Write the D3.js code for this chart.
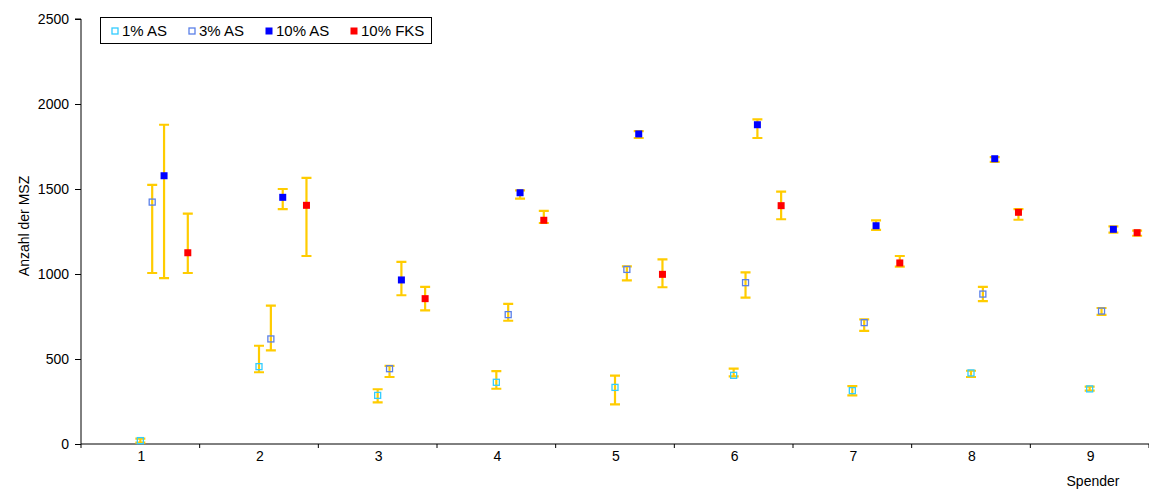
<!DOCTYPE html>
<html>
<head>
<meta charset="utf-8">
<script src="https://cdn.jsdelivr.net/npm/d3@7"></script>
<style>
  html, body { margin: 0; padding: 0; background: #fff; }
  svg { display: block; }
  text { font-family: "Liberation Sans", Arial, sans-serif; fill: #000; }
</style>
</head>
<body>
<svg id="chart" width="1149" height="489"></svg>
<script>
// ---- data ----
const categories = [1, 2, 3, 4, 5, 6, 7, 8, 9];
const seriesNames = ["1% AS", "3% AS", "10% AS", "10% FKS"];

const as1   = [20, 455, 286, 363, 333, 404, 314, 418, 324];
const as1Hi = [32, 578, 322, 429, 402, 443, 341, 431, 337];
const as1Lo = [8, 422, 245, 325, 233, 398, 286, 394, 314];

const as3   = [1423, 618, 443, 761, 1027, 949, 714, 882, 782];
const as3Hi = [1524, 814, 459, 824, 1045, 1010, 733, 924, 800];
const as3Lo = [1006, 551, 394, 725, 963, 861, 665, 841, 759];

const as10   = [1578, 1451, 965, 1478, 1824, 1878, 1284, 1678, 1263];
const as10Hi = [1878, 1500, 1071, 1492, 1841, 1910, 1316, 1687, 1280];
const as10Lo = [976, 1382, 875, 1443, 1800, 1800, 1259, 1659, 1243];

const fks   = [1125, 1404, 855, 1316, 998, 1402, 1065, 1363, 1243];
const fksHi = [1355, 1565, 924, 1371, 1086, 1484, 1106, 1382, 1255];
const fksLo = [1006, 1106, 786, 1300, 922, 1322, 1043, 1319, 1225];

const yTicks = [0, 500, 1000, 1500, 2000, 2500];
const xOffsets = [0, 0.1, 0.2, 0.4];

// ---- styles ----
const seriesStyle = [
  { fill: "none", stroke: "#33CCFF" },
  { fill: "none", stroke: "#5B80E8" },
  { fill: "#0000FF", stroke: "#0000FF" },
  { fill: "#FF0000", stroke: "#FF0000" }
];
const errColor = "#FFCC00";

const values = [as1, as3, as10, fks];
const his = [as1Hi, as3Hi, as10Hi, fksHi];
const los = [as1Lo, as3Lo, as10Lo, fksLo];

const svg = d3.select("#chart");
const pL = 81, pR = 1149, pT = 19, pB = 444;

const x = d3.scaleLinear().domain([0.5, 9.5]).range([pL, pR]);
const y = d3.scaleLinear().domain([0, 2500]).range([pB, pT]);

// y axis
const yAxis = svg.append("g").attr("transform", `translate(${pL},0)`)
  .call(d3.axisLeft(y).tickValues(yTicks).tickSize(6).tickPadding(6).tickFormat(d3.format("d")));
yAxis.select(".domain").attr("stroke", "#000").attr("d", `M-6,${pT}H0V${pB}`);
yAxis.selectAll(".tick line").attr("stroke", "#000");
yAxis.selectAll(".tick text").style("font-size", "14px").attr("font-family", "Liberation Sans, Arial, sans-serif");

// x axis: boundary ticks, labels at category centres
const xAxisG = svg.append("g").attr("transform", `translate(0,${pB})`);
xAxisG.append("path").attr("d", `M${pL},0H${pR}`).attr("stroke", "#000").attr("fill", "none");
const boundaries = d3.range(0.5, 9.6, 1);
xAxisG.selectAll("line.b").data(boundaries).join("line")
  .attr("x1", d => x(d)).attr("x2", d => x(d)).attr("y1", 0).attr("y2", 4)
  .attr("stroke", "#000");
xAxisG.selectAll("text.c").data(categories).join("text")
  .attr("x", d => x(d) + 1).attr("y", 17)
  .attr("text-anchor", "middle").style("font-size", "14px").text(d => d);

// axis titles
svg.append("text").attr("transform", "translate(29,226) rotate(-90)")
  .attr("text-anchor", "middle").style("font-size", "14px").text("Anzahl der MSZ");
svg.append("text").attr("x", 1093).attr("y", 486)
  .attr("text-anchor", "middle").style("font-size", "14px").text("Spender");

// error bars and markers
const capW = 5;
seriesNames.forEach((name, s) => {
  const g = svg.append("g");
  const data = categories.map((c, i) => ({ cx: x(c + xOffsets[s]), v: values[s][i], hi: his[s][i], lo: los[s][i] }));
  g.selectAll("path.err").data(data).join("path")
    .attr("d", d => `M${d.cx},${y(d.hi)}V${y(d.lo)}M${d.cx - capW},${y(d.hi)}H${d.cx + capW}M${d.cx - capW},${y(d.lo)}H${d.cx + capW}`)
    .attr("stroke", errColor).attr("stroke-width", 2.2).attr("fill", "none");
});
seriesNames.forEach((name, s) => {
  const g = svg.append("g");
  const st = seriesStyle[s];
  const data = categories.map((c, i) => ({ cx: x(c + xOffsets[s]), v: values[s][i] }));
  const sz = s < 2 ? 6 : 7;
  g.selectAll("rect").data(data).join("rect")
    .attr("x", d => d.cx - sz / 2).attr("y", d => y(d.v) - sz / 2)
    .attr("width", sz).attr("height", sz)
    .attr("fill", st.fill).attr("stroke", st.fill === "none" ? st.stroke : "none")
    .attr("stroke-width", 1.3);
});

// legend
const lg = svg.append("g");
lg.append("rect").attr("x", 100.5).attr("y", 17.5).attr("width", 331).attr("height", 26)
  .attr("fill", "#fff").attr("stroke", "#000");
const legX = [115, 192, 269, 354];
seriesNames.forEach((name, s) => {
  const st = seriesStyle[s];
  const sz = s < 2 ? 6 : 7;
  lg.append("rect").attr("x", legX[s] - sz / 2).attr("y", 31 - sz / 2).attr("width", sz).attr("height", sz)
    .attr("fill", st.fill).attr("stroke", st.fill === "none" ? st.stroke : "none").attr("stroke-width", 1.3);
  lg.append("text").attr("x", legX[s] + 7).attr("y", 36).style("font-size", "15px").text(name);
});
</script>
</body>
</html>
